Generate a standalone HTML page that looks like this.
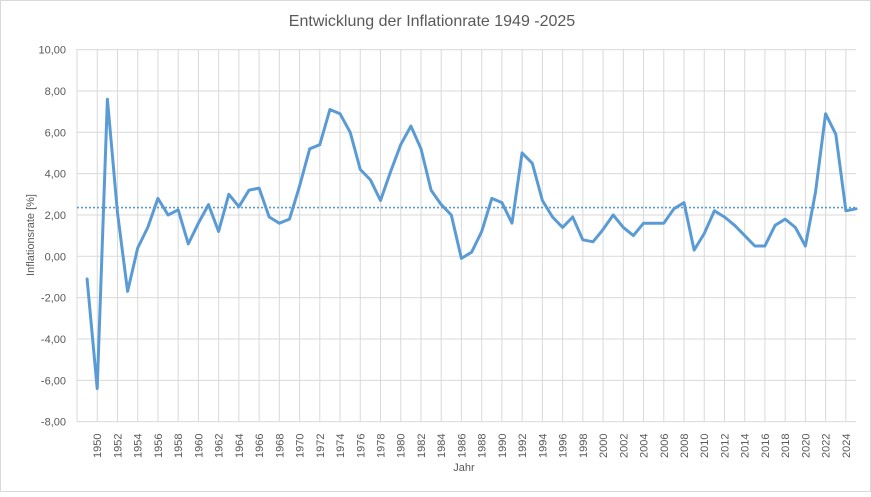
<!DOCTYPE html>
<html><head><meta charset="utf-8"><style>
body{margin:0;background:#fff;}
svg text{font-family:"Liberation Sans",Calibri,sans-serif;fill:#595959;}
</style></head><body>
<svg id="s" width="871" height="492" xmlns="http://www.w3.org/2000/svg">
<rect x="0.5" y="0.5" width="870" height="491" fill="#fff" stroke="#d9d9d9"/>
<text x="432" y="26" font-size="16" text-anchor="middle">Entwicklung der Inflationrate 1949 -2025</text>
<g id="g"></g>
<text transform="translate(34,235) rotate(-90)" font-size="11" text-anchor="middle">Inflationsrate [%]</text>
<text x="464" y="471" font-size="11" text-anchor="middle">Jahr</text>
</svg>
<script>
var d=[-1.1,-6.4,7.6,2.1,-1.7,0.4,1.4,2.8,2.0,2.25,0.6,1.6,2.5,1.2,3.0,2.4,3.2,3.3,1.9,1.6,1.8,3.4,5.2,5.4,7.1,6.9,6.0,4.2,3.7,2.7,4.1,5.4,6.3,5.2,3.2,2.5,2.0,-0.1,0.2,1.2,2.8,2.6,1.6,5.0,4.5,2.7,1.9,1.4,1.9,0.8,0.7,1.3,2.0,1.4,1.0,1.6,1.6,1.6,2.3,2.6,0.3,1.1,2.2,1.9,1.5,1.0,0.5,0.5,1.5,1.8,1.4,0.5,3.1,6.9,5.9,2.2,2.3];
var L=77,R=856,dx=(R-L)/77;
function X(y){return L+(y-1948)*dx;}
function Y(v){return 256.3-v*20.67;}
var h='';
for(var k=0;k<=38;k++){var x=L+k*2*dx;h+='<line x1="'+x+'" y1="49" x2="'+x+'" y2="421.6" stroke="#d9d9d9"/>';}
for(var v=10;v>=-8;v-=2){var y=Y(v);h+='<line x1="'+L+'" y1="'+y+'" x2="'+R+'" y2="'+y+'" stroke="#d9d9d9"/>';
h+='<text x="66" y="'+(y+4)+'" font-size="11" text-anchor="end">'+v.toFixed(2).replace('.',',')+'</text>';}
for(var yr=1950;yr<=2024;yr+=2){var x=X(yr);h+='<text transform="translate('+(x+4)+',458) rotate(-90)" font-size="11">'+yr+'</text>';}
h+='<line x1="'+L+'" y1="'+Y(2.36)+'" x2="'+R+'" y2="'+Y(2.36)+'" stroke="#5b9bd5" stroke-width="1.6" stroke-dasharray="2,2"/>';
var p=d.map(function(v,i){return X(1949+i).toFixed(1)+','+Y(v).toFixed(1);}).join(' ');
h+='<polyline points="'+p+'" fill="none" stroke="#5b9bd5" stroke-width="3" stroke-linejoin="round" stroke-linecap="round"/>';
document.getElementById('g').innerHTML=h;
</script>
</body></html>
